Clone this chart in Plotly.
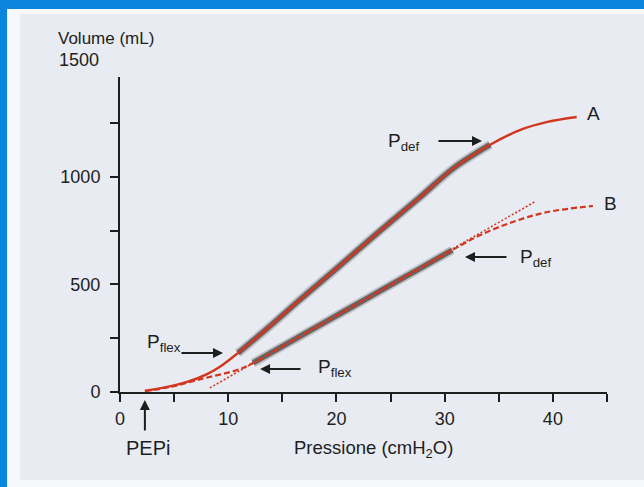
import plotly.graph_objects as go

# ---- data ----
curve_a_p = [2.3, 4.0, 6.2, 8.0, 9.2, 10.9, 13.9, 16.6, 20.0, 24.0, 27.7, 30.8, 34.2, 37.0, 39.5, 42.2]
curve_a_v = [5, 20, 47, 82, 116, 181, 308, 428, 574, 748, 905, 1040, 1150, 1219, 1256, 1279]

curve_b_p = [2.3, 4.6, 7.7, 10.8, 12.3, 15.0, 18.5, 20.6, 24.0, 27.7, 30.7, 33.3, 36.3, 39.5, 43.7]
curve_b_v = [5, 23, 63, 102, 135, 212, 312, 372, 469, 574, 660, 730, 791, 837, 865]

linear_b_p = [8.3, 38.3]
linear_b_v = [19, 884]

pflex_a, pdef_a = 10.9, 34.2
pflex_b, pdef_b = 12.3, 30.7
pepi = 2.3

x_tickvals = [0, 5, 10, 15, 20, 25, 30, 35, 40, 45]
x_ticktext = ["0", "", "10", "", "20", "", "30", "", "40", ""]
y_tickvals = [0, 250, 500, 750, 1000, 1250]
y_ticktext = ["0", "", "500", "", "1000", ""]

RED = "#d2361f"
INK = "#1e1e1e"
FONT = "Liberation Sans, Arial, sans-serif"

# layout geometry (pixels)
W, H = 644, 487
L, R, T, B = 120, 37, 77, 95
PW, PH = W - L - R, H - T - B


def px(xp):
    return (xp - L) / PW


def py(yp):
    return (H - B - yp) / PH


def band(ps, vs, lo, hi):
    sel = [(p, v) for p, v in zip(ps, vs) if lo - 1e-9 <= p <= hi + 1e-9]
    return [s[0] for s in sel], [s[1] for s in sel]


fig = go.Figure()

# gray shaded bands along linear segments
for ps, vs, lo, hi in [(curve_a_p, curve_a_v, pflex_a, pdef_a),
                       (curve_b_p, curve_b_v, pflex_b, pdef_b)]:
    bp, bv = band(ps, vs, lo, hi)
    fig.add_trace(go.Scatter(x=bp, y=bv, mode="lines", line=dict(color="rgba(100,100,100,0.30)", width=9, shape="spline"),
                             hoverinfo="skip", showlegend=False))
    fig.add_trace(go.Scatter(x=bp, y=bv, mode="lines", line=dict(color="rgba(85,85,85,0.85)", width=5.5, shape="spline"),
                             hoverinfo="skip", showlegend=False))

# dotted linear extrapolation of B
fig.add_trace(go.Scatter(x=linear_b_p, y=linear_b_v, mode="lines",
                         line=dict(color=RED, width=1.6, dash="2px,2px"), showlegend=False))
# curve B dashed
fig.add_trace(go.Scatter(x=curve_b_p, y=curve_b_v, mode="lines",
                         line=dict(color=RED, width=2.2, dash="6px,3px", shape="spline"), showlegend=False))
# curve A solid
fig.add_trace(go.Scatter(x=curve_a_p, y=curve_a_v, mode="lines",
                         line=dict(color=RED, width=2.4, shape="spline"), showlegend=False))

ann = []


def arrow(x_tip, y_tip, x_tail, y_tail):
    ann.append(dict(x=x_tip, y=y_tip, ax=x_tail, ay=y_tail, xref="x", yref="y", axref="x", ayref="y",
                    text="", showarrow=True, arrowhead=2, arrowsize=1.0, arrowwidth=2, arrowcolor=INK))


arrow(9.52, 181, 5.54, 181)      # upper Pflex
arrow(12.94, 107, 16.82, 107)    # lower Pflex
arrow(33.45, 1167, 29.29, 1167)  # upper Pdef
arrow(31.88, 628, 35.85, 628)    # lower Pdef
# PEPi arrow
ann.append(dict(x=pepi, y=py(400), xref="x", yref="paper", ax=0, ay=32, text="", showarrow=True,
                arrowhead=2, arrowsize=1.0, arrowwidth=2, arrowcolor=INK))


def label(text, x, y, xref="x", yref="y", xanchor="left", size=17):
    ann.append(dict(x=x, y=y, xref=xref, yref=yref, text=text, showarrow=False, xanchor=xanchor,
                    yanchor="middle", font=dict(family=FONT, size=size, color=INK)))


label("P<sub>flex</sub>", px(145), py(343), "paper", "paper", size=19)
label("P<sub>flex</sub>", px(316), py(368), "paper", "paper", size=19)
label("P<sub>def</sub>", px(386), py(142), "paper", "paper", size=19)
label("P<sub>def</sub>", px(518), py(258), "paper", "paper", size=19)
label("A", px(593), py(113), "paper", "paper", xanchor="center", size=19)
label("B", px(610), py(203), "paper", "paper", xanchor="center", size=19)
label("PEPi", px(148), py(448), "paper", "paper", xanchor="center", size=20)
label("Pressione (cmH<sub>2</sub>O)", px(373), py(449), "paper", "paper", xanchor="center", size=18.5)
label("Volume (mL)", px(56), py(39), "paper", "paper", xanchor="left")
label("1500", px(101), py(60), "paper", "paper", xanchor="right", size=18)

shapes = [
    dict(type="rect", xref="paper", yref="paper", x0=px(-10), x1=px(W + 10), y0=py(-10), y1=py(H + 10),
         fillcolor="#0a86de", line=dict(width=0), layer="below"),
    dict(type="rect", xref="paper", yref="paper", x0=px(7), x1=px(W + 10), y0=py(9), y1=py(H + 10),
         fillcolor="#f6f8fb", line=dict(width=0), layer="below"),
    dict(type="rect", xref="paper", yref="paper", x0=px(20), x1=px(W + 10), y0=py(14), y1=py(480),
         fillcolor="#e8ebf1", line=dict(width=0), layer="below"),
]

axis_common = dict(showgrid=False, zeroline=False, showline=True, linecolor=INK, linewidth=2,
                   ticks="outside", ticklen=8, tickwidth=2, tickcolor=INK,
                   tickfont=dict(family=FONT, size=18, color=INK), tickmode="array")

fig.update_layout(
    width=W, height=H, margin=dict(l=L, r=R, t=T, b=B, autoexpand=False),
    paper_bgcolor="#f6f8fb", plot_bgcolor="rgba(0,0,0,0)",
    xaxis=dict(range=[0, 45], tickvals=x_tickvals, ticktext=x_ticktext, ticklabelstandoff=1, **axis_common),
    yaxis=dict(range=[0, 1465], tickvals=y_tickvals, ticktext=y_ticktext, ticklabelstandoff=6, **axis_common),
    annotations=ann, shapes=shapes, showlegend=False,
)

fig.write_html("out.html", config={"displayModeBar": False},
               post_script="document.body.style.margin='0';document.body.style.overflow='hidden';"
                           "document.body.style.background='#e8ebf1';"
                           "document.documentElement.style.background='#e8ebf1';")
